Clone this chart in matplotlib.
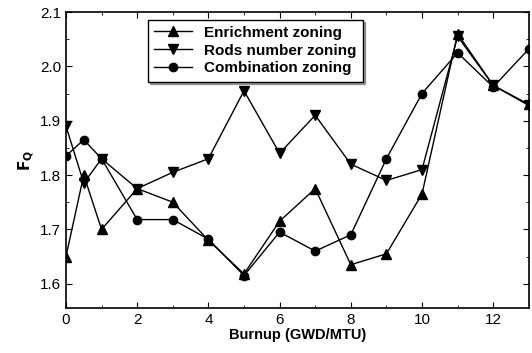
import numpy as np
import matplotlib.pyplot as plt

# burnup points and peaking factor for each zoning scheme
burnup = [0, 0.5, 1, 2, 3, 4, 5, 6, 7, 8, 9, 10, 11, 12, 13]
enrichment = [1.65, 1.80, 1.70, 1.775, 1.75, 1.68, 1.618, 1.715, 1.775, 1.635, 1.655, 1.765, 2.06, 1.965, 1.93]
rods = [1.89, 1.785, 1.83, 1.775, 1.805, 1.83, 1.955, 1.84, 1.91, 1.82, 1.79, 1.81, 2.055, 1.965, 1.928]
combination = [1.835, 1.865, 1.83, 1.718, 1.718, 1.682, 1.615, 1.695, 1.66, 1.69, 1.83, 1.95, 2.025, 1.962, 2.032]

plt.rcParams['font.family'] = ['Liberation Sans', 'DejaVu Sans']

fig = plt.figure(figsize=(5.32, 3.53), dpi=100)
ax = fig.add_axes([0.124, 0.127, 0.87, 0.839])

ax.plot(burnup, enrichment, 'k-', marker='^', ms=6.5, lw=1.0, label='Enrichment zoning')
ax.plot(burnup, rods, 'k-', marker='v', ms=6.5, lw=1.0, label='Rods number zoning')
ax.plot(burnup, combination, 'k-', marker='o', ms=6, lw=1.0, label='Combination zoning')

ax.set_xlim(0, 13)
ax.set_ylim(1.555, 2.1)
ax.set_xticks([0, 2, 4, 6, 8, 10, 12])
ax.set_xticks(np.arange(1, 13, 2), minor=True)
ax.set_yticks([1.6, 1.7, 1.8, 1.9, 2.0, 2.1])
ax.set_yticks([1.65, 1.75, 1.85, 1.95, 2.05], minor=True)
ax.tick_params(direction='in', top=True, right=True, labelsize=11, length=4, which='major')
ax.tick_params(direction='in', top=True, right=True, length=2.5, which='minor')
for s in ax.spines.values():
    s.set_linewidth(1.2)

ax.set_xlabel('Burnup (GWD/MTU)', fontweight='bold', fontsize=10.5, labelpad=1)
ax.set_ylabel(r'$\mathbf{F_Q}$', fontsize=11, labelpad=2)

leg = ax.legend(loc='upper left', bbox_to_anchor=(0.16, 1.0), fancybox=False, shadow=True,
                edgecolor='black', prop={'weight': 'bold', 'size': 11},
                handlelength=2.5, borderpad=0.4, labelspacing=0.25)
leg.get_frame().set_linewidth(1.0)

fig.savefig('out.png', dpi=100)
